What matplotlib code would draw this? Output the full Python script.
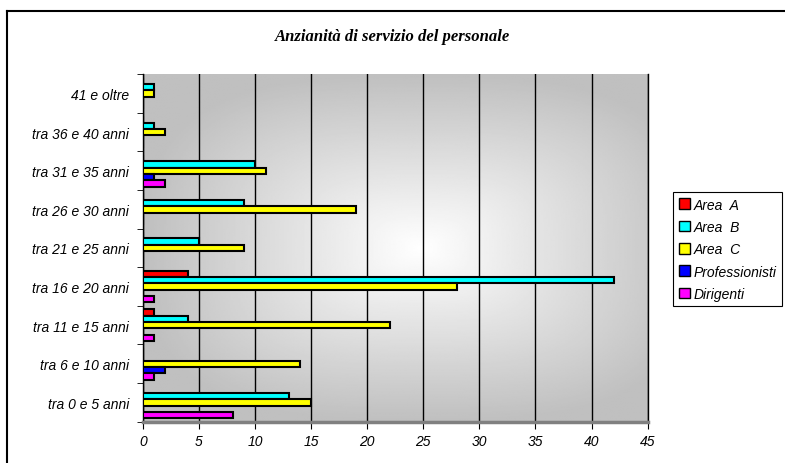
import numpy as np
import matplotlib
matplotlib.use('Agg')
from matplotlib import pyplot as plt
from matplotlib.lines import Line2D
from matplotlib.patches import Patch

categories = ['tra 0 e 5 anni', 'tra 6 e 10 anni', 'tra 11 e 15 anni',
              'tra 16 e 20 anni', 'tra 21 e 25 anni', 'tra 26 e 30 anni',
              'tra 31 e 35 anni', 'tra 36 e 40 anni', '41 e oltre']

area_a = [0, 0, 1, 4, 0, 0, 0, 0, 0]
area_b = [13, 0, 4, 42, 5, 9, 10, 1, 1]
area_c = [15, 14, 22, 28, 9, 19, 11, 2, 1]
professionisti = [0, 2, 0, 0, 0, 0, 1, 0, 0]
dirigenti = [8, 1, 1, 1, 0, 0, 2, 0, 0]

series = [('Area  A', area_a, '#ff0000'),
          ('Area  B', area_b, '#00ffff'),
          ('Area  C', area_c, '#ffff00'),
          ('Professionisti', professionisti, '#0000ff'),
          ('Dirigenti', dirigenti, '#ff00ff')]

sans = 'Liberation Sans'

fig = plt.figure(figsize=(7.85, 4.64), dpi=100)
ax = fig.add_axes([0.182, 0.089, 0.643, 0.749])

# grey plot area, lighter towards the middle
gx = np.linspace(-1, 1, 300)
gy = np.linspace(-1, 1, 300)
u, v = np.meshgrid(gx - 0.1, gy)
t = np.clip((np.abs(u / 1.1) ** 3 + np.abs(v) ** 3) ** (1 / 3), 0, 1)
shade = 1 - 0.25 * t
ax.imshow(shade, cmap='gray', vmin=0, vmax=1, extent=[0, 45, -0.5, 8.5],
          aspect='auto', zorder=0, interpolation='bilinear')

y = np.arange(len(categories))
h = 0.165
for j, (name, vals, col) in enumerate(series):
    ax.barh(y + (2 - j) * h, vals, height=h, color=col, edgecolor='black',
            linewidth=1.5, zorder=3)

ax.set_xlim(0, 45)
ax.set_ylim(-0.5, 8.5)
ax.set_xticks(np.arange(0, 46, 5))
ax.set_xticklabels([str(x) for x in range(0, 46, 5)], fontsize=10,
                   style='italic', family=sans)
ax.xaxis.grid(True, color='black', linewidth=1, zorder=1)
ax.set_axisbelow(True)
ax.tick_params(axis='x', direction='out', length=5, pad=4)

ax.set_yticks(y)
ax.set_yticklabels(categories, fontsize=10, style='italic', family=sans)
ax.set_yticks(np.arange(-0.5, 9, 1), minor=True)
ax.tick_params(axis='y', which='major', length=0, pad=10)
ax.tick_params(axis='y', which='minor', direction='out', length=4)

ax.spines['top'].set_visible(False)
ax.spines['right'].set_linewidth(1)
ax.spines['left'].set_linewidth(1)
ax.spines['bottom'].set_color('#808080')
ax.spines['bottom'].set_linewidth(2.5)

fig.text(0.4994, 1 - 37 / 464, 'Anzianità di servizio del personale',
         ha='center', va='center', fontsize=12, family='Liberation Serif',
         weight='bold', style='italic')

handles = [Patch(facecolor=col, edgecolor='black', linewidth=1)
           for _, _, col in series]
leg = fig.legend(handles, [s[0] for s in series], loc='upper left',
                 bbox_to_anchor=(673 / 785, 1 - 193 / 464),
                 prop={'family': sans, 'style': 'italic', 'size': 10},
                 frameon=True, fancybox=False, framealpha=1,
                 edgecolor='black', handlelength=0.8, handleheight=0.8,
                 handletextpad=0.3, labelspacing=0.6, borderpad=0.4,
                 borderaxespad=0)
leg.get_frame().set_linewidth(0.8)

# outer chart frame
fig.add_artist(Line2D([7 / 785, 7 / 785], [0, 1 - 12 / 464], color='black',
                      linewidth=1.5, transform=fig.transFigure))
fig.add_artist(Line2D([7 / 785, 1], [1 - 12 / 464, 1 - 12 / 464],
                      color='black', linewidth=1.5, transform=fig.transFigure))

fig.savefig('out.png', dpi=100)
